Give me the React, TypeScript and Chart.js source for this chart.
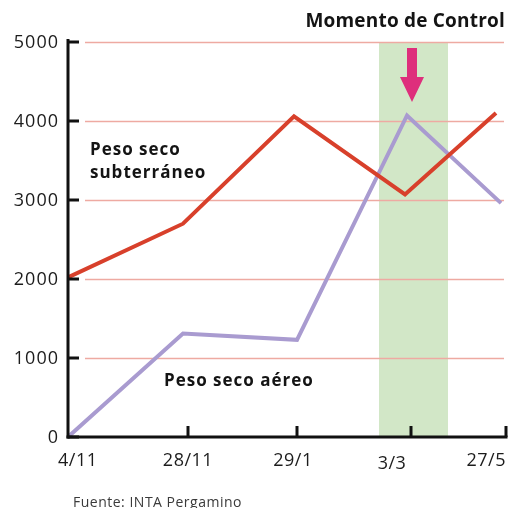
import React, { useEffect, useRef } from "react";
import { Chart, registerables } from "chart.js";

Chart.register(...registerables);

// ---- data ----
const xLabels = ["4/11", "28/11", "29/1", "3/3", "27/5"];
const xTickPos = [0, 120, 229, 343, 438];
const yTicks = [0, 1000, 2000, 3000, 4000, 5000];

const subterraneoX = [0, 115, 226, 337, 428];
const subterraneoVals = [2020, 2700, 4060, 3070, 4100];

const aereoX = [0, 115, 229, 339, 433];
const aereoVals = [0, 1310, 1230, 4070, 2960];

const controlBand = [311, 380];
const controlArrowX = 344;

const title = "Momento de Control";
const labelSub = ["Peso seco", "subterráneo"];
const labelAer = "Peso seco aéreo";
const source = "Fuente: INTA Pergamino";

const SUB_COLOR = "#d8402b";
const AER_COLOR = "#a99bd0";
const GRID_COLOR = "#eeaaa2";
const BAND_COLOR = "#d2e7c7";
const ARROW_COLOR = "#de2f7c";
const FONT = '"Open Sans", "DejaVu Sans", sans-serif';

function setSpacing(ctx: any, v: string) {
  try {
    ctx.letterSpacing = v;
  } catch (e) {}
}

const decorPlugin = {
  id: "decor",
  beforeDatasetsDraw(chart: any) {
    const { ctx, chartArea, scales } = chart;
    const x = scales.x;
    const y = scales.y;
    ctx.save();
    // band
    const bx0 = x.getPixelForValue(controlBand[0]);
    const bx1 = x.getPixelForValue(controlBand[1]);
    ctx.fillStyle = BAND_COLOR;
    ctx.fillRect(bx0, chartArea.top, bx1 - bx0, chartArea.bottom - chartArea.top);
    // grid lines
    ctx.strokeStyle = GRID_COLOR;
    ctx.lineWidth = 1.5;
    yTicks.forEach((t) => {
      if (t === 0) return;
      const py = Math.round(y.getPixelForValue(t)) + 0.5;
      ctx.beginPath();
      ctx.moveTo(chartArea.left + 17, py);
      ctx.lineTo(chartArea.right - 2, py);
      ctx.stroke();
    });
    // arrow
    const ax = x.getPixelForValue(controlArrowX);
    const top = chartArea.top;
    ctx.fillStyle = ARROW_COLOR;
    ctx.beginPath();
    ctx.moveTo(ax - 5, top + 6);
    ctx.lineTo(ax + 5, top + 6);
    ctx.lineTo(ax + 5, top + 35);
    ctx.lineTo(ax + 12, top + 35);
    ctx.lineTo(ax, top + 60);
    ctx.lineTo(ax - 12, top + 35);
    ctx.lineTo(ax - 5, top + 35);
    ctx.closePath();
    ctx.fill();
    ctx.restore();
  },
  afterDatasetsDraw(chart: any) {
    const { ctx, chartArea, scales } = chart;
    const x = scales.x;
    const y = scales.y;
    const L = chartArea.left;
    const B = chartArea.bottom;
    ctx.save();
    ctx.strokeStyle = "#111";
    ctx.lineWidth = 3;
    ctx.lineCap = "butt";
    // y axis
    ctx.beginPath();
    ctx.moveTo(L, chartArea.top - 3);
    ctx.lineTo(L, B + 1.5);
    ctx.stroke();
    // x axis
    ctx.beginPath();
    ctx.moveTo(L - 1.5, B);
    ctx.lineTo(x.getPixelForValue(xTickPos[xTickPos.length - 1]) + 1.5, B);
    ctx.stroke();
    // y ticks
    ctx.fillStyle = "#1c1c1c";
    ctx.font = `18px ${FONT}`;
    setSpacing(ctx, "1px");
    ctx.textAlign = "right";
    ctx.textBaseline = "middle";
    yTicks.forEach((t) => {
      const py = y.getPixelForValue(t);
      ctx.beginPath();
      ctx.moveTo(L, py);
      ctx.lineTo(L + 11, py);
      ctx.stroke();
      ctx.fillText(String(t), L - 9, py + 1);
    });
    // x ticks & labels
    setSpacing(ctx, "0.5px");
    const xOffsets = [-10, 0, -4, -19, 0];
    const xAligns: any[] = ["left", "center", "center", "center", "right"];
    const yOffsets = [0, 0, 0, 3, 0];
    xTickPos.forEach((p, i) => {
      const px = x.getPixelForValue(p);
      if (i > 0) {
        ctx.beginPath();
        ctx.moveTo(px, B);
        ctx.lineTo(px, B - 11);
        ctx.stroke();
      }
      ctx.textAlign = xAligns[i];
      ctx.fillText(xLabels[i], px + xOffsets[i], B + 24 + yOffsets[i]);
    });
    // annotations
    ctx.fillStyle = "#141414";
    ctx.font = `bold 17px ${FONT}`;
    setSpacing(ctx, "1px");
    ctx.textAlign = "left";
    ctx.fillText(labelSub[0], 90, 150);
    ctx.fillText(labelSub[1], 90, 173);
    ctx.fillText(labelAer, 164, 381);
    ctx.font = `bold 19px ${FONT}`;
    setSpacing(ctx, "0.2px");
    ctx.textAlign = "right";
    ctx.fillText(title, 505, 22);
    ctx.font = `14px ${FONT}`;
    setSpacing(ctx, "0.5px");
    ctx.fillStyle = "#3a3a3a";
    ctx.textAlign = "left";
    ctx.fillText(source, 73, 503);
    ctx.restore();
  },
};

export default function App() {
  const ref = useRef<HTMLCanvasElement | null>(null);
  useEffect(() => {
    if (!ref.current) return;
    const chart = new Chart(ref.current, {
      type: "line",
      data: {
        datasets: [
          {
            label: "Peso seco subterráneo",
            data: subterraneoX.map((xv, i) => ({ x: xv, y: subterraneoVals[i] })),
            borderColor: SUB_COLOR,
            borderWidth: 4,
            pointRadius: 0,
            tension: 0,
            borderJoinStyle: "miter",
            clip: false as any,
          },
          {
            label: "Peso seco aéreo",
            data: aereoX.map((xv, i) => ({ x: xv, y: aereoVals[i] })),
            borderColor: AER_COLOR,
            borderWidth: 4,
            pointRadius: 0,
            tension: 0,
            borderJoinStyle: "miter",
            clip: false as any,
          },
        ],
      },
      options: {
        animation: false,
        responsive: true,
        maintainAspectRatio: false,
        layout: { padding: { left: 68, right: 5, top: 42, bottom: 71 } },
        plugins: { legend: { display: false }, tooltip: { enabled: false } },
        scales: {
          x: { type: "linear", min: 0, max: 438, display: false },
          y: { min: 0, max: 5000, display: false },
        },
      },
      plugins: [decorPlugin],
    });
    return () => chart.destroy();
  }, []);
  return (
    <div style={{ position: "fixed", left: 0, top: 0, width: 511, height: 508, background: "#fff" }}>
      <canvas ref={ref} />
    </div>
  );
}
